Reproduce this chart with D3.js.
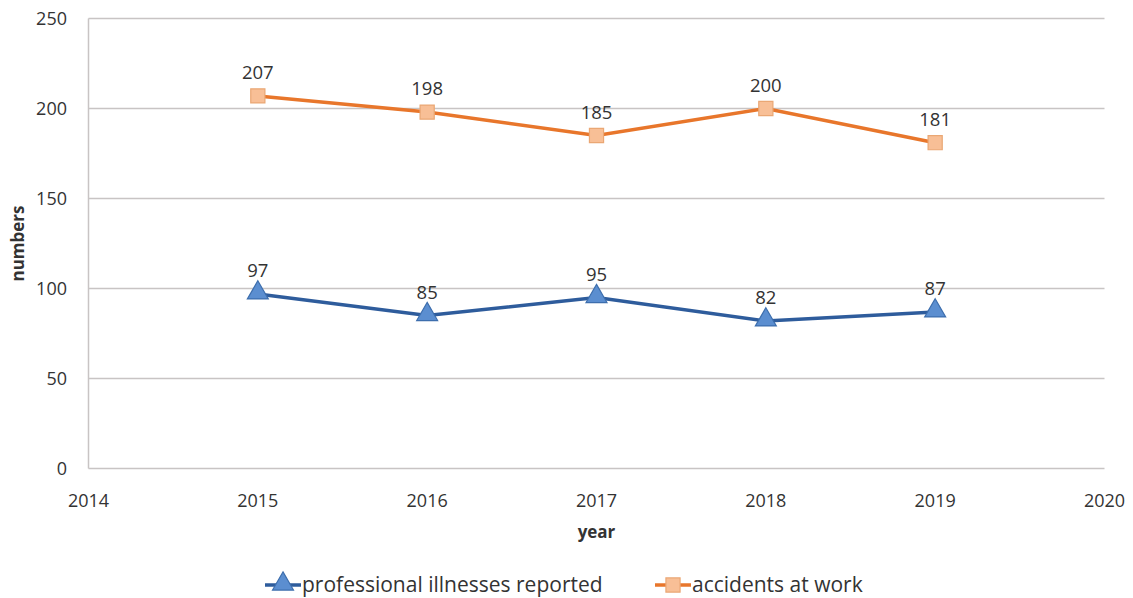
<!DOCTYPE html>
<html><head><meta charset="utf-8">
<script src="https://cdn.jsdelivr.net/npm/d3@7/dist/d3.min.js"></script>
<style>body{margin:0;background:#fff}svg{display:block}text{font-family:"Open Sans",sans-serif;fill:#333}</style>
</head><body><svg id="c" width="1133" height="598"></svg>
<script>
const years = [2015, 2016, 2017, 2018, 2019];
const illnesses = [97, 85, 95, 82, 87];
const accidents = [207, 198, 185, 200, 181];
const yTicks = [0, 50, 100, 150, 200, 250];
const xTicks = [2014, 2015, 2016, 2017, 2018, 2019, 2020];
const seriesNames = ["professional illnesses reported", "accidents at work"];

const svg = d3.select("#c");
const x = d3.scaleLinear().domain([2014, 2020]).range([88.5, 1104.5]);
const y = d3.scaleLinear().domain([0, 250]).range([468.5, 18.5]);

svg.append("g").selectAll("line").data(yTicks).join("line")
  .attr("x1", x(2014)).attr("x2", x(2020))
  .attr("y1", d => y(d)).attr("y2", d => y(d))
  .attr("stroke", "#c8c4c4").attr("stroke-width", 1.5);
svg.append("line").attr("x1", x(2014)).attr("x2", x(2014)).attr("y1", y(250)).attr("y2", y(0))
  .attr("stroke", "#c8c4c4").attr("stroke-width", 1.5);

svg.append("g").selectAll("text").data(yTicks).join("text")
  .attr("x", 67).attr("y", d => y(d)).attr("dy", "0.35em")
  .attr("text-anchor", "end").attr("font-size", 18).text(d => d);
svg.append("g").selectAll("text").data(xTicks).join("text")
  .attr("x", d => x(d)).attr("y", 507)
  .attr("text-anchor", "middle").attr("font-size", 18).text(d => d);

svg.append("text").attr("x", x(2017)).attr("y", 538).attr("text-anchor", "middle")
  .attr("font-size", 17).attr("font-weight", "bold").text("year");
svg.append("text").attr("transform", `translate(24,${y(125)}) rotate(-90)`).attr("text-anchor", "middle")
  .attr("font-size", 17).attr("font-weight", "bold").text("numbers");

const line = d3.line().x(d => x(d[0])).y(d => y(d[1]));
const blue = "#2e5c9c", orange = "#e8762b";
const accData = years.map((yr, i) => [yr, accidents[i]]);
const illData = years.map((yr, i) => [yr, illnesses[i]]);

svg.append("path").datum(accData).attr("d", line).attr("fill", "none").attr("stroke", orange).attr("stroke-width", 3.5);
svg.append("path").datum(illData).attr("d", line).attr("fill", "none").attr("stroke", blue).attr("stroke-width", 3.5);

const sq = d3.symbol().type(d3.symbolSquare).size(200);
const tri = d3.symbol().type(d3.symbolTriangle).size(190);

svg.append("g").selectAll("path").data(accData).join("path")
  .attr("transform", d => `translate(${x(d[0])},${y(d[1])})`).attr("d", sq)
  .attr("fill", "#f8bf96").attr("stroke", "#eaa774").attr("stroke-width", 1.2);
svg.append("g").selectAll("path").data(illData).join("path")
  .attr("transform", d => `translate(${x(d[0])},${y(d[1]) - 1})`).attr("d", tri)
  .attr("fill", "#5b8ed0").attr("stroke", "#3d6ead").attr("stroke-width", 1.2);

svg.append("g").selectAll("text").data(accData.concat(illData)).join("text")
  .attr("x", d => x(d[0])).attr("y", d => y(d[1]) - 17)
  .attr("text-anchor", "middle").attr("font-size", 18.5).text(d => d[1]);

const lg = svg.append("g");
function legendItem(x0, color, name, marker, mfill, mstroke) {
  lg.append("line").attr("x1", x0).attr("x2", x0 + 36).attr("y1", 585).attr("y2", 585).attr("stroke", color).attr("stroke-width", 3.5);
  lg.append("path").attr("transform", `translate(${x0 + 18},${marker === tri ? 584 : 585})`).attr("d", marker)
    .attr("fill", mfill).attr("stroke", mstroke).attr("stroke-width", 1.2);
  lg.append("text").attr("x", x0 + 37).attr("y", 585).attr("dy", "0.35em").attr("font-size", 21).text(name);
}
legendItem(265, blue, seriesNames[0], tri, "#5b8ed0", "#3d6ead");
legendItem(655, orange, seriesNames[1], sq, "#f8bf96", "#eaa774");
</script></body></html>
